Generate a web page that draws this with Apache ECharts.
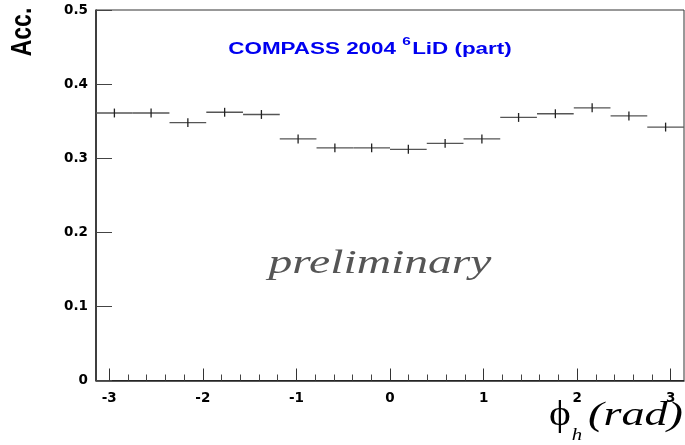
<!DOCTYPE html>
<html>
<head>
<meta charset="utf-8">
<script src="https://cdn.jsdelivr.net/npm/echarts@6/dist/echarts.min.js"></script>
<style>
  html, body { margin: 0; padding: 0; background: #fff; }
  #chart { width: 685px; height: 445px; }
</style>
</head>
<body>
<div id="chart"></div>
<script>
// Azimuthal acceptance, 16 bins in phi_h over [-pi, pi]
const phiCenters = [-2.945, -2.553, -2.160, -1.767, -1.374, -0.982, -0.589, -0.196,
                     0.196,  0.589,  0.982,  1.374,  1.767,  2.160,  2.553,  2.945];
const binHalfWidth = 0.196;
const accValues = [0.361, 0.361, 0.348, 0.362, 0.359, 0.326, 0.314, 0.314,
                   0.312, 0.320, 0.326, 0.355, 0.360, 0.368, 0.357, 0.342];
const accErrors = [0.006, 0.006, 0.006, 0.006, 0.006, 0.006, 0.006, 0.006,
                   0.006, 0.006, 0.006, 0.006, 0.006, 0.006, 0.006, 0.006];

const xMajorTicks = [-3, -2, -1, 0, 1, 2, 3];
const yTicks = [0, 0.1, 0.2, 0.3, 0.4, 0.5];

const xMinorTicks = [];
for (let k = -15; k <= 15; k++) {
  if (k % 5 !== 0) xMinorTicks.push(k / 5);
}

const points = phiCenters.map((x, i) => [x, accValues[i], accErrors[i]]);

const labelFont = { fontFamily: 'DejaVu Sans', fontWeight: 'bold', fontSize: 13.5, color: '#000' };
const axisLineStyle = { color: '#222', width: 1.5 };

const chart = echarts.init(document.getElementById('chart'), null, { renderer: 'canvas' });

chart.setOption({
  animation: false,
  backgroundColor: '#fff',
  grid: {
    left: 96, right: 1, top: 10, bottom: 64.5,
    show: true, borderColor: '#333', borderWidth: 1, backgroundColor: 'transparent'
  },
  xAxis: [
    {
      type: 'value', min: -Math.PI, max: Math.PI, position: 'bottom',
      axisLine: { show: true, onZero: false, lineStyle: axisLineStyle },
      axisTick: { show: true, inside: true, length: 12, customValues: xMajorTicks, lineStyle: { color: '#333', width: 1 } },
      axisLabel: Object.assign({ customValues: xMajorTicks, margin: 11 }, labelFont),
      splitLine: { show: false }
    },
    {
      type: 'value', min: -Math.PI, max: Math.PI, position: 'bottom',
      axisLine: { show: false },
      axisTick: { show: true, inside: true, length: 6, customValues: xMinorTicks, lineStyle: { color: '#444', width: 1 } },
      axisLabel: { show: false },
      splitLine: { show: false }
    }
  ],
  yAxis: {
    type: 'value', min: 0, max: 0.5, interval: 0.1,
    axisLine: { show: true, onZero: false, lineStyle: axisLineStyle },
    axisTick: { show: true, inside: true, length: 16, customValues: yTicks, lineStyle: { color: '#444', width: 1 } },
    axisLabel: Object.assign({ margin: 8, customValues: yTicks }, labelFont),
    splitLine: { show: false }
  },
  series: [
    {
      type: 'custom',
      xAxisIndex: 0,
      data: points,
      renderItem: function (params, api) {
        const x = api.value(0), y = api.value(1), e = api.value(2);
        const pL = api.coord([x - binHalfWidth, y]);
        const pR = api.coord([x + binHalfWidth, y]);
        const pT = api.coord([x, y + e]);
        const pB = api.coord([x, y - e]);
        return {
          type: 'group',
          children: [
            { type: 'line', shape: { x1: pL[0], y1: pL[1], x2: pR[0], y2: pR[1] },
              style: { stroke: '#555', lineWidth: 1.3 } },
            { type: 'line', shape: { x1: pT[0], y1: pT[1], x2: pB[0], y2: pB[1] },
              style: { stroke: '#222', lineWidth: 1.3 } }
          ]
        };
      }
    }
  ],
  graphic: [
    {
      type: 'text', x: 370, y: 47, scaleX: 1.4,
      style: {
        text: '{a|COMPASS 2004 }{s|6}{a|LiD (part)}',
        align: 'center', verticalAlign: 'middle',
        rich: {
          a: { fontFamily: 'Liberation Sans', fontWeight: 'bold', fontSize: 16, fill: '#0000f0', verticalAlign: 'bottom', lineHeight: 18 },
          s: { fontFamily: 'Liberation Sans', fontWeight: 'bold', fontSize: 11, fill: '#0000f0', verticalAlign: 'top', lineHeight: 22, padding: [0, 1, 8, 0] }
        }
      }
    },
    {
      type: 'text', x: 23, y: 32, rotation: Math.PI / 2, scaleY: 1.25,
      style: {
        text: 'Acc.', align: 'center', verticalAlign: 'middle',
        fontFamily: 'Liberation Sans', fontWeight: 'bold', fontSize: 23, fill: '#000'
      }
    },
    {
      type: 'text', x: 380, y: 264, scaleX: 1.4,
      style: {
        text: 'preliminary', align: 'center', verticalAlign: 'middle',
        fontFamily: 'Liberation Serif', fontStyle: 'italic', fontSize: 34, fill: '#555'
      }
    },
    {
      type: 'text', x: 560, y: 416, scaleX: 1.15,
      style: {
        text: 'ϕ', align: 'center', verticalAlign: 'middle',
        fontFamily: 'Liberation Serif, DejaVu Serif', fontSize: 36, fill: '#000'
      }
    },
    {
      type: 'text', x: 577, y: 436, scaleX: 1.3,
      style: {
        text: 'h', align: 'center', verticalAlign: 'middle',
        fontFamily: 'Liberation Serif', fontStyle: 'italic', fontSize: 16, fill: '#000'
      }
    },
    {
      type: 'text', x: 683, y: 416, scaleX: 1.4,
      style: {
        text: '(rad)', align: 'right', verticalAlign: 'middle',
        fontFamily: 'Liberation Serif', fontStyle: 'italic', fontSize: 33, fill: '#000'
      }
    }
  ]
});
</script>
</body>
</html>
